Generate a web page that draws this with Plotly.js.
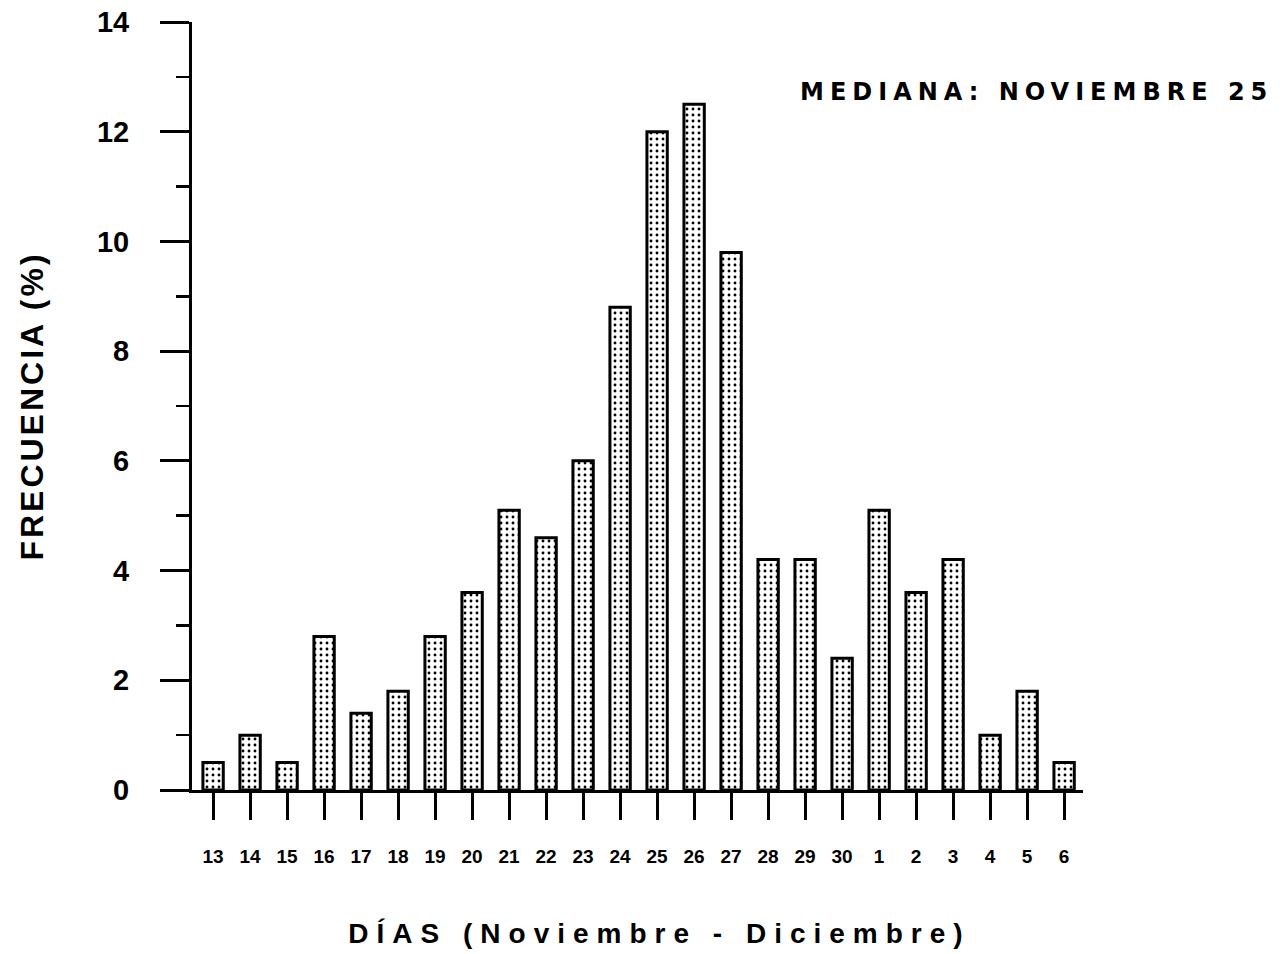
<!DOCTYPE html>
<html>
<head>
<meta charset="utf-8">
<script src="https://cdn.plot.ly/plotly-3.0.1.min.js"></script>
<style>html,body{margin:0;padding:0;background:#fff;}#chart{width:1285px;height:954px;}</style>
</head>
<body>
<div id="chart"></div>
<script>
const dias = ["13","14","15","16","17","18","19","20","21","22","23","24","25","26","27","28","29","30","1","2","3","4","5","6"];
const frecuencia = [0.5,1.0,0.5,2.8,1.4,1.8,2.8,3.6,5.1,4.6,6.0,8.8,12.0,12.5,9.8,4.2,4.2,2.4,5.1,3.6,4.2,1.0,1.8,0.5];
const yTicks = [0,2,4,6,8,10,12,14];

const trace = {
  type: "bar",
  x: dias,
  y: frecuencia,
  width: 0.55,
  marker: {
    color: "#ffffff",
    line: {color: "#000", width: 3},
    pattern: {shape: ".", fgcolor: "#000", bgcolor: "#fff", size: 6, solidity: 0.18}
  },
  hoverinfo: "skip"
};

const layout = {
  width: 1285, height: 954,
  margin: {l: 192, r: 202, t: 22, b: 164},
  paper_bgcolor: "#fff", plot_bgcolor: "#fff",
  showlegend: false,
  xaxis: {
    type: "category",
    range: [-0.57, 23.51],
    showgrid: false, zeroline: false,
    showline: true, linecolor: "#000", linewidth: 3,
    ticks: "outside", ticklen: 27, tickwidth: 3, tickcolor: "#000",
    ticklabelstandoff: 20,
    tickfont: {family: "Liberation Sans, Arial", size: 19, color: "#000", weight: "bold"},
    title: {text: "DÍAS (Noviembre - Diciembre)", standoff: 58,
            font: {family: "Liberation Sans, Arial", size: 28, color: "#000", weight: "bold"}},
    fixedrange: true
  },
  yaxis: {
    range: [0, 14],
    tickvals: yTicks,
    ticktext: yTicks.map(String),
    showgrid: false, zeroline: false,
    showline: true, linecolor: "#000", linewidth: 3,
    ticks: "outside", ticklen: 29, tickwidth: 3, tickcolor: "#000",
    minor: {dtick: 1, ticks: "outside", ticklen: 13, tickwidth: 2.5, tickcolor: "#000", showgrid: false},
    ticklabelstandoff: 25,
    tickfont: {family: "Liberation Sans, Arial", size: 29, color: "#000", weight: "bold"},
    title: {text: "FRECUENCIA (%)", standoff: 44,
            font: {family: "Liberation Sans, Arial", size: 32, color: "#000", weight: "bold"}},
    fixedrange: true
  },
  annotations: [{
    text: "MEDIANA: NOVIEMBRE 25",
    xref: "paper", yref: "paper",
    x: 0.9475, y: 0.909, xanchor: "center", yanchor: "middle",
    showarrow: false,
    font: {family: "DejaVu Sans, Liberation Sans, Arial", size: 24, color: "#000", weight: "bold"}
  }]
};

Plotly.newPlot("chart", [trace], layout, {displayModeBar: false, staticPlot: true}).then(function(){
  const xt = document.querySelector(".xtitle");
  if (xt) {
    xt.setAttribute("letter-spacing", "8px");
    const x0 = parseFloat(xt.getAttribute("x"));
    if (!isNaN(x0)) xt.setAttribute("x", x0 + 22);
  }
  const yt = document.querySelector(".ytitle");
  if (yt) yt.setAttribute("letter-spacing", "3px");
  const ann = document.querySelector(".annotation-text");
  if (ann) ann.setAttribute("letter-spacing", "6px");
});
</script>
</body>
</html>
